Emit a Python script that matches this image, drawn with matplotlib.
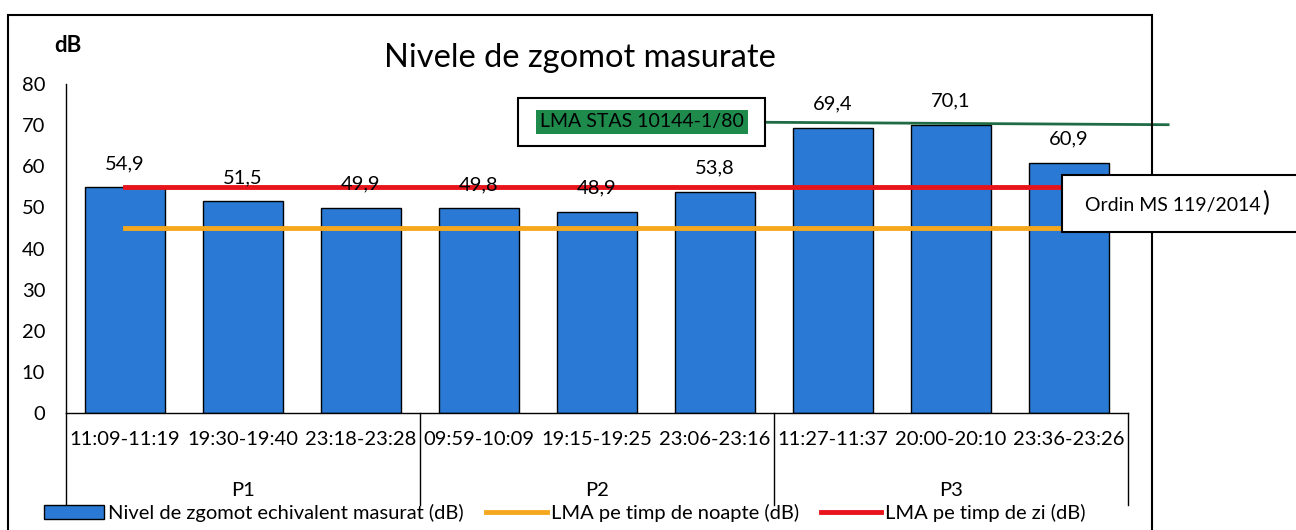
import matplotlib
matplotlib.use('Agg')
import matplotlib.pyplot as plt
from matplotlib.patches import Rectangle
from matplotlib.transforms import blended_transform_factory
import numpy as np

# data
intervals = ['11:09-11:19', '19:30-19:40', '23:18-23:28',
             '09:59-10:09', '19:15-19:25', '23:06-23:16',
             '11:27-11:37', '20:00-20:10', '23:36-23:26']
groups = ['P1', 'P2', 'P3']
group_size = 3
levels = [54.9, 51.5, 49.9, 49.8, 48.9, 53.8, 69.4, 70.1, 60.9]
night_limit = 45
day_limit = 55
stas_limit = 70.4

plt.rcParams['font.family'] = ['Lato', 'DejaVu Sans']

blue = '#2A7AD5'
orange = '#F5A81E'
red = '#E8141C'
fs = 14.5

fig = plt.figure(figsize=(12.96, 5.30), dpi=100)
W, H = 1296, 530


def fx(px):
    return px / W


def fy(py):
    return 1 - py / H


ax = fig.add_axes([fx(66), fy(413), fx(1128) - fx(66), fy(84) - fy(413)])

x = np.arange(len(levels))
bars = ax.bar(x, levels, width=0.68, color=blue, edgecolor='black', linewidth=1.0, zorder=2,
              label='Nivel de zgomot echivalent masurat (dB)')
night, = ax.plot(x, [night_limit] * len(x), color=orange, linewidth=3.5, zorder=3,
                 label='LMA pe timp de noapte (dB)')
day, = ax.plot(x, [day_limit] * len(x), color=red, linewidth=3.5, zorder=3,
               label='LMA pe timp de zi (dB)')

for xi, v in zip(x, levels):
    ax.annotate(f'{v:.1f}'.replace('.', ','), (xi, v), xytext=(0, 17),
                textcoords='offset points', ha='center', va='center', fontsize=fs)

# STAS line drawn over the top bars
ax.plot([5.38, 8.84], [stas_limit + 0.3, stas_limit - 0.3], color='#1F6B45',
        linewidth=2, clip_on=False, zorder=4)

ax.set_xlim(-0.5, len(levels) - 0.5)
ax.set_ylim(0, 80)
ax.set_yticks(range(0, 81, 10))
ax.set_xticks(x)
ax.set_xticklabels(intervals, fontsize=fs)
ax.tick_params(axis='y', length=0, pad=15, labelsize=fs)
ax.tick_params(axis='x', length=0, pad=13)
for s in ['top', 'right']:
    ax.spines[s].set_visible(False)
ax.spines['left'].set_linewidth(1)
ax.spines['bottom'].set_linewidth(1)

# group separators and labels
trans = blended_transform_factory(ax.transData, ax.transAxes)
bottom_frac = (413 - 505) / (413 - 84)
for b in range(len(groups) + 1):
    xb = b * group_size - 0.5
    ax.plot([xb, xb], [0, bottom_frac], color='black', linewidth=1,
            transform=trans, clip_on=False)
for g, name in enumerate(groups):
    ax.text(g * group_size + 1, (413 - 490) / (413 - 84), name, transform=trans,
            ha='center', va='center', fontsize=fs)

fig.text(fx(54), fy(46), 'dB', fontsize=16, fontweight='bold', ha='left', va='center')

fig.text(fx(580), fy(58), 'Nivele de zgomot masurate', fontsize=23.5,
         ha='center', va='center')

# outer frame
fig.patches.append(Rectangle((fx(8), -0.02), fx(1152) - fx(8), fy(15) + 0.02,
                             transform=fig.transFigure, fill=False,
                             edgecolor='black', linewidth=1.5))

# STAS label box
fig.patches.append(Rectangle((fx(518), fy(146)), fx(765) - fx(518), fy(98) - fy(146),
                             transform=fig.transFigure, facecolor='white',
                             edgecolor='black', linewidth=1.5, zorder=5))
fig.patches.append(Rectangle((fx(536), fy(134)), fx(748) - fx(536), fy(110) - fy(134),
                             transform=fig.transFigure, facecolor='#1E8A4C',
                             edgecolor='none', zorder=6))
fig.text(fx(642), fy(122), 'LMA STAS 10144-1/80', fontsize=14, ha='center',
         va='center', color='black', zorder=7)

# Ordin box
fig.patches.append(Rectangle((fx(1062), fy(232)), fx(1300) - fx(1062), fy(175) - fy(232),
                             transform=fig.transFigure, facecolor='white',
                             edgecolor='black', linewidth=1.5, zorder=5))
fig.text(fx(1085), fy(205), 'Ordin MS 119/2014', fontsize=14, ha='left',
         va='center', zorder=7)
fig.text(fx(1262), fy(203), ')', fontsize=19, ha='left', va='center', zorder=7)

fig.legend(handles=[bars, night, day], loc='center', bbox_to_anchor=(fx(565), fy(513)),
           ncol=3, frameon=False, fontsize=fs, handlelength=3.0, handletextpad=0.2,
           columnspacing=1.1, borderaxespad=0)

fig.savefig('out.png', dpi=100)
